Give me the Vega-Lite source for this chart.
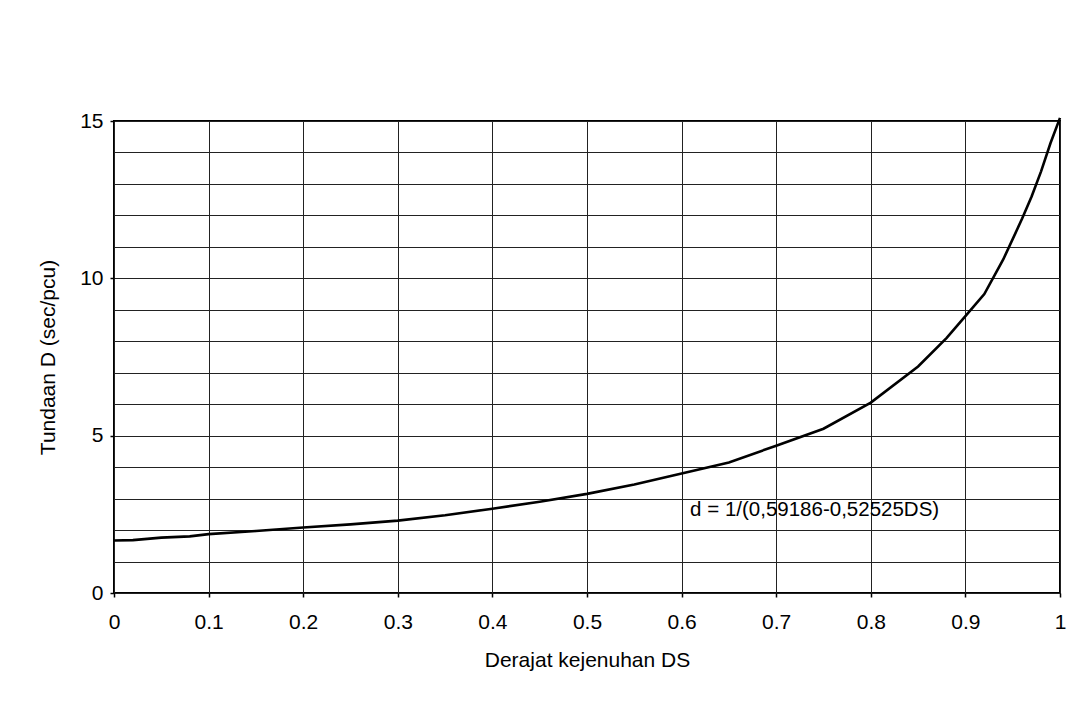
{
  "$schema": "https://vega.github.io/schema/vega-lite/v6.json",
  "autosize": "none",
  "width": 946,
  "height": 472,
  "padding": {"left": 114, "top": 121, "right": 27, "bottom": 110},
  "background": "white",
  "config": {
    "font": "Liberation Sans",
    "view": {"stroke": "black", "strokeWidth": 2},
    "axis": {
      "labelFont": "Liberation Sans",
      "titleFont": "Liberation Sans",
      "labelColor": "black",
      "titleColor": "black",
      "titleFontWeight": "normal",
      "labelFontSize": 21,
      "titleFontSize": 21,
      "domain": false,
      "gridColor": "#222",
      "gridWidth": 1,
      "gridOpacity": 1,
      "tickColor": "black",
      "tickWidth": 1.5
    }
  },
  "layer": [
    {
      "data": {
        "values": [
          {"DS": 0.0, "D": 1.67},
          {"DS": 0.02, "D": 1.68},
          {"DS": 0.05, "D": 1.76},
          {"DS": 0.08, "D": 1.8},
          {"DS": 0.1, "D": 1.87},
          {"DS": 0.15, "D": 1.97},
          {"DS": 0.2, "D": 2.08},
          {"DS": 0.25, "D": 2.18},
          {"DS": 0.3, "D": 2.3},
          {"DS": 0.35, "D": 2.47},
          {"DS": 0.4, "D": 2.68},
          {"DS": 0.45, "D": 2.9},
          {"DS": 0.5, "D": 3.15},
          {"DS": 0.55, "D": 3.45},
          {"DS": 0.6, "D": 3.8},
          {"DS": 0.65, "D": 4.15},
          {"DS": 0.7, "D": 4.68},
          {"DS": 0.75, "D": 5.22},
          {"DS": 0.8, "D": 6.05},
          {"DS": 0.85, "D": 7.2},
          {"DS": 0.88, "D": 8.1},
          {"DS": 0.9, "D": 8.8},
          {"DS": 0.92, "D": 9.5},
          {"DS": 0.94, "D": 10.6},
          {"DS": 0.96, "D": 11.9},
          {"DS": 0.97, "D": 12.6},
          {"DS": 0.98, "D": 13.4},
          {"DS": 0.99, "D": 14.3},
          {"DS": 1.0, "D": 15.1}
        ]
      },
      "mark": {"type": "line", "color": "black", "strokeWidth": 2.6, "clip": false},
      "encoding": {
        "x": {
          "field": "DS",
          "type": "quantitative",
          "scale": {"domain": [0, 1], "nice": false, "zero": false},
          "axis": {
            "title": "Derajat kejenuhan DS",
            "values": [0, 0.1, 0.2, 0.3, 0.4, 0.5, 0.6, 0.7, 0.8, 0.9, 1],
            "tickCount": 20,
            "format": "~g",
            "tickSize": 4,
            "labelPadding": 14,
            "titlePadding": 17,
            "labelFlush": false,
            "labelOverlap": false
          }
        },
        "y": {
          "field": "D",
          "type": "quantitative",
          "scale": {"domain": [0, 15], "nice": false},
          "axis": {
            "title": "Tundaan D (sec/pcu)",
            "values": [0, 1, 2, 3, 4, 5, 6, 7, 8, 9, 10, 11, 12, 13, 14, 15],
            "tickCount": 30,
            "format": "~g",
            "labelExpr": "datum.value % 5 === 0 ? datum.label : ''",
            "tickSize": 4,
            "tickOpacity": {"condition": {"test": "datum.value % 5 === 0", "value": 1}, "value": 0},
            "labelPadding": 7,
            "titlePadding": 21,
            "labelFlush": false,
            "labelOverlap": false
          }
        }
      }
    },
    {
      "data": {"values": [{"DS": 0.609, "D": 2.65, "label": "d = 1/(0,59186-0,52525DS)"}]},
      "mark": {"type": "text", "align": "left", "baseline": "middle", "fontSize": 20.5, "font": "Liberation Sans", "color": "black"},
      "encoding": {
        "x": {"field": "DS", "type": "quantitative"},
        "y": {"field": "D", "type": "quantitative"},
        "text": {"field": "label"}
      }
    }
  ]
}
